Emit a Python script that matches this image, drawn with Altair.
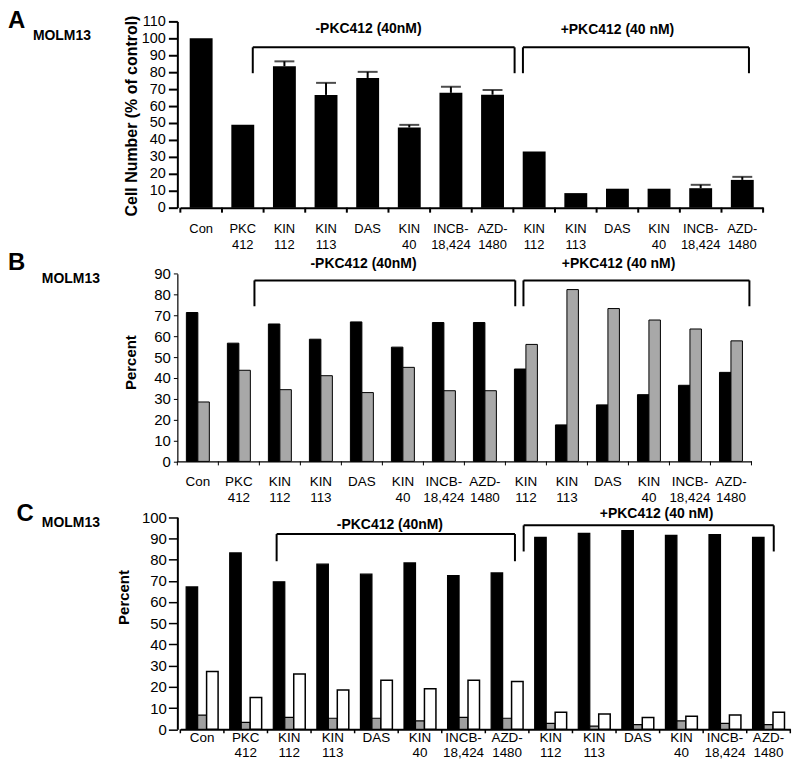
import altair as alt
import pandas as pd

FONT = "Liberation Sans"

# ---------------- data ----------------
labels = ["Con", "PKC\n412", "KIN\n112", "KIN\n113", "DAS", "KIN\n40", "INCB-\n18,424", "AZD-\n1480",
          "KIN\n112", "KIN\n113", "DAS", "KIN\n40", "INCB-\n18,424", "AZD-\n1480"]
cats = [f"{i}|{lab}" for i, lab in enumerate(labels)]

# Panel A: cell number (% of control) with upper error bars
a_values = [100, 49, 83.5, 66.6, 76.6, 47.3, 67.8, 66.7, 33.1, 8.6, 11.2, 11.2, 11.5, 16.4]
a_err = [None, None, 86.4, 73.7, 80.2, 48.9, 71.4, 69.5, None, None, None, None, 13.5, 18.2]

# Panel B: two series (percent)
b_black = [71.4, 56.7, 65.9, 58.6, 66.9, 54.8, 66.6, 66.6, 44.3, 17.5, 27.1, 32.0, 36.5, 42.7]
b_gray = [28.5, 43.7, 34.4, 41.1, 33.0, 45.1, 33.9, 33.9, 56.1, 82.4, 73.3, 67.8, 63.5, 57.8]

# Panel C: three series (percent)
c_black = [67.1, 83.1, 69.5, 77.8, 73.1, 78.4, 72.4, 73.7, 90.4, 92.3, 93.6, 91.4, 91.8, 90.4]
c_gray = [6.7, 3.3, 5.6, 5.2, 5.2, 4.0, 5.6, 5.2, 2.8, 1.5, 2.2, 4.0, 2.8, 2.2]
c_white = [27.2, 15.0, 26.1, 18.5, 23.1, 19.1, 23.1, 22.5, 8.0, 7.2, 5.6, 6.1, 6.7, 8.0]

bracket_names = ["-PKC412 (40nM)", "+PKC412 (40 nM)"]
# bracket extents in category units (0..14) and values on each panel's y scale
a_br_start, a_br_end, a_br_top, a_br_bottom = [1.74, 8.23], [8.03, 13.66], [94.7, 94.7], [79.4, 79.4]
a_lab_x, a_lab_y = [4.52, 10.5], [105.3, 104.7]
b_br_start, b_br_end, b_br_top, b_br_bottom = [1.88, 8.44], [8.24, 13.95], [86.8, 86.8], [74.4, 74.4]
b_lab_x, b_lab_y = [4.54, 10.76], [94.8, 94.8]
c_br_start, c_br_end, c_br_top, c_br_bottom = [2.21, 7.88], [7.68, 13.62], [92.0, 96.1], [79.2, 83.8]
c_lab_x, c_lab_y = [4.81, 10.93], [96.4, 101.5]


def x_scale(rng, p):
    return alt.Scale(domain=cats, range=rng, paddingInner=p, paddingOuter=p / 2)


def x_axis(dw):
    return alt.Axis(title=None, labels=False, ticks=False, domainWidth=dw, grid=False)


def y_axis(values, fs, tick, tickw, dw, pad):
    return alt.Axis(values=values, title=None, labelFontSize=fs, tickSize=tick, tickWidth=tickw,
                    domainWidth=dw, labelPadding=pad, grid=False)


def band_off(u, step):
    """category index units -> (category, pixel offset from that band's centre)"""
    i = min(int(u), 13)
    return cats[i], (u - i - 0.5) * step


def bracket_layers(starts, ends, tops, bottoms, lab_x, lab_y, xs, xax, step, ys, yax):
    layers = []
    for s, e, t, b, lx, ly, name in zip(starts, ends, tops, bottoms, lab_x, lab_y, bracket_names):
        cs, ds = band_off(s, step)
        ce, de = band_off(e, step)
        cl, dl = band_off(lx, step)
        df = pd.DataFrame({"c1": [cs], "c2": [ce], "cl": [cl], "t": [t], "b": [b], "ly": [ly], "name": [name]})
        base = alt.Chart(df)
        layers.append(base.mark_rule(color="black", strokeWidth=2, xOffset=ds, x2Offset=de).encode(
            x=alt.X("c1:N", scale=xs, axis=xax), x2="c2:N",
            y=alt.Y("t:Q", scale=ys, axis=yax)))
        layers.append(base.mark_rule(color="black", strokeWidth=2, xOffset=ds).encode(
            x=alt.X("c1:N", scale=xs, axis=xax),
            y=alt.Y("t:Q", scale=ys, axis=yax), y2="b:Q"))
        layers.append(base.mark_rule(color="black", strokeWidth=2, xOffset=de).encode(
            x=alt.X("c2:N", scale=xs, axis=xax),
            y=alt.Y("t:Q", scale=ys, axis=yax), y2="b:Q"))
        layers.append(base.mark_text(fontSize=14, fontWeight="bold", baseline="middle", align="center",
                                     color="black", xOffset=dl).encode(
            x=alt.X("cl:N", scale=xs, axis=xax),
            y=alt.Y("ly:Q", scale=ys, axis=yax), text="name:N"))
    return layers


def x_labels_and_ticks(xs, xax, step, h, lab_y, fs, lh, tick, tickw):
    dfl = pd.DataFrame({"cat": cats, "lab": labels})
    lab = alt.Chart(dfl).mark_text(lineBreak="\n", baseline="top", align="center", fontSize=fs,
                                   lineHeight=lh, color="black").encode(
        x=alt.X("cat:N", scale=xs, axis=xax), y=alt.value(lab_y), text="lab:N")
    ticks = alt.Chart(dfl).mark_rule(color="black", strokeWidth=tickw, xOffset=-step / 2).encode(
        x=alt.X("cat:N", scale=xs, axis=xax), y=alt.value(h), y2=alt.value(h + tick))
    last = alt.Chart(pd.DataFrame({"cat": [cats[-1]]})).mark_rule(
        color="black", strokeWidth=tickw, xOffset=step / 2).encode(
        x=alt.X("cat:N", scale=xs, axis=xax), y=alt.value(h), y2=alt.value(h + tick))
    return [lab, ticks, last]


def series_bars(values, fill, width, offset, sw, xs, xax, ys, yax):
    df = pd.DataFrame({"cat": cats, "value": values})
    return alt.Chart(df).mark_bar(fill=fill, stroke="black", strokeWidth=sw, width=width, xOffset=offset).encode(
        x=alt.X("cat:N", scale=xs, axis=xax), y=alt.Y("value:Q", scale=ys, axis=yax))


def note(text, x, y, fs, angle=0, align="left", baseline="alphabetic"):
    return alt.Chart(alt.Data(values=[{"t": text}])).mark_text(
        fontSize=fs, fontWeight="bold", align=align, baseline=baseline, color="black", angle=angle
    ).encode(x=alt.value(x), y=alt.value(y), text="t:N")


# ---------------- Panel A ----------------
pA, rngA, hA = 0.45, [3, 588], 187
stepA = (rngA[1] - rngA[0]) / 14
xsA = x_scale(rngA, pA)
xaxA = x_axis(2)
yA = alt.Scale(domain=[0, 110], nice=False)
yaxA = y_axis(list(range(0, 111, 10)), 14.5, 9, 2, 2, 3)
dfA = pd.DataFrame({"cat": cats, "value": a_values, "err": a_err})
barsA = alt.Chart(dfA).mark_bar(color="black").encode(
    x=alt.X("cat:N", scale=xsA, axis=xaxA), y=alt.Y("value:Q", scale=yA, axis=yaxA))
errA = alt.Chart(dfA).transform_filter("isValid(datum.err)").mark_rule(color="black", strokeWidth=2).encode(
    x=alt.X("cat:N", scale=xsA, axis=xaxA), y=alt.Y("value:Q", scale=yA, axis=yaxA), y2="err:Q")
capA = alt.Chart(dfA).transform_filter("isValid(datum.err)").mark_tick(color="black", thickness=2, size=20).encode(
    x=alt.X("cat:N", scale=xsA, axis=xaxA), y=alt.Y("err:Q", scale=yA, axis=yaxA))
panelA = alt.layer(
    barsA, errA, capA,
    *bracket_layers(a_br_start, a_br_end, a_br_top, a_br_bottom, a_lab_x, a_lab_y, xsA, xaxA, stepA, yA, yaxA),
    *x_labels_and_ticks(xsA, xaxA, stepA, hA, 202, 13, 16, 5, 2),
    note("A", -170, 7, 24), note("MOLM13", -145, 19, 14),
    note("Cell Number (% of control)", -46, 95, 16, angle=270, align="center", baseline="middle"),
).properties(width=588, height=hA)

# ---------------- Panel B ----------------
pB, rngB, hB = 0.44, [0, 576.3], 234.7
stepB = (rngB[1] - rngB[0]) / 14
xsB = x_scale(rngB, pB)
xaxB = x_axis(1.2)
yB = alt.Scale(domain=[0, 90], range=[234.7, 46.3], nice=False)
yaxB = y_axis(list(range(0, 91, 10)), 15, 4, 1, 1.2, 3)
wB = stepB * (1 - pB) / 2
panelB = alt.layer(
    series_bars(b_black, "black", wB, -wB / 2, 1, xsB, xaxB, yB, yaxB),
    series_bars(b_gray, "#a8a8a8", wB, wB / 2, 1, xsB, xaxB, yB, yaxB),
    *bracket_layers(b_br_start, b_br_end, b_br_top, b_br_bottom, b_lab_x, b_lab_y, xsB, xaxB, stepB, yB, yaxB),
    *x_labels_and_ticks(xsB, xaxB, stepB, hB, 248, 13.5, 16, 4, 1),
    note("B", -170, 43, 24), note("MOLM13", -136, 56, 14),
    note("Percent", -47, 135.5, 15, angle=270, align="center", baseline="middle"),
).properties(width=576.3, height=hB)

# ---------------- Panel C ----------------
pC, rngC, hC = 0.267, [3, 615.3], 248.6
stepC = (rngC[1] - rngC[0]) / 14
xsC = x_scale(rngC, pC)
xaxC = x_axis(2)
yC = alt.Scale(domain=[0, 100], range=[248.6, 35.6], nice=False)
yaxC = y_axis(list(range(0, 101, 10)), 15, 9, 1.5, 2, 2)
groupC = stepC * (1 - pC)
wC_side, wC_mid = groupC * 0.36, groupC * 0.28
panelC = alt.layer(
    series_bars(c_black, "black", wC_side, -(wC_side + wC_mid) / 2, 1.2, xsC, xaxC, yC, yaxC),
    series_bars(c_gray, "#a0a0a0", wC_mid, 0, 1.2, xsC, xaxC, yC, yaxC),
    series_bars(c_white, "white", wC_side, (wC_side + wC_mid) / 2, 1.5, xsC, xaxC, yC, yaxC),
    *bracket_layers(c_br_start, c_br_end, c_br_top, c_br_bottom, c_lab_x, c_lab_y, xsC, xaxC, stepC, yC, yaxC),
    *x_labels_and_ticks(xsC, xaxC, stepC, hC, 250.5, 13.5, 15, 4, 1.5),
    note("C", -161.5, 40, 24), note("MOLM13", -136, 45.6, 14),
    note("Percent", -54, 116.3, 15, angle=270, align="center", baseline="middle"),
).properties(width=615.3, height=hC)

chart = alt.vconcat(panelA, panelB, panelC, spacing=20, bounds="flush").properties(
    padding=0
).configure(font=FONT).configure_view(stroke=None).configure_axis(
    labelColor="black", domainColor="black", tickColor="black", labelFont=FONT
)

chart.save("out.html", embed_options={"renderer": "svg", "actions": False})
